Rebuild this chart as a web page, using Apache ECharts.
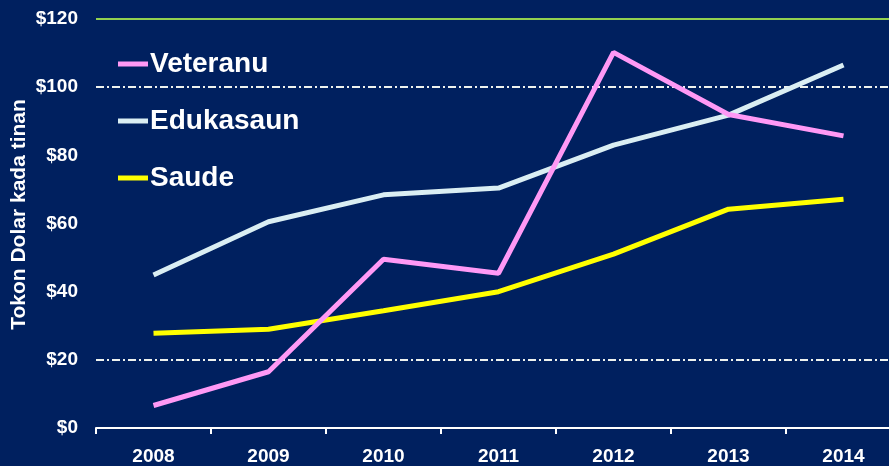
<!DOCTYPE html>
<html>
<head>
<meta charset="utf-8">
<script src="https://cdn.jsdelivr.net/npm/echarts@6/dist/echarts.min.js"></script>
<style>
html,body{margin:0;padding:0;background:#00205F;}
#chart{width:889px;height:466px;}
</style>
</head>
<body>
<div id="chart"></div>
<script>
var years = ['2008','2009','2010','2011','2012','2013','2014'];
var veteranu = [6.6, 16.5, 49.5, 45.4, 110.2, 92.0, 85.7];
var edukasaun = [44.9, 60.5, 68.4, 70.4, 83.0, 91.8, 106.5];
var saude = [27.8, 29.0, 34.4, 40.0, 51.0, 64.2, 67.1];
var yTicks = [0, 20, 40, 60, 80, 100, 120];
var dashedLevels = [100, 20];
var greenLevel = 120;

var font = '"Liberation Sans", Arial, sans-serif';
var chart = echarts.init(document.getElementById('chart'));

var markData = [{yAxis: greenLevel, lineStyle: {color: '#92D050', width: 2, type: 'solid'}}];
dashedLevels.forEach(function (v) {
  markData.push({yAxis: v, lineStyle: {color: '#EEF2EE', width: 2, type: [8, 3, 2, 3]}});
});

chart.setOption({
  backgroundColor: '#00205F',
  animation: false,
  grid: {left: 96, width: 805, top: 19, height: 409, outerBoundsMode: 'none', containLabel: false},
  legend: {
    orient: 'vertical',
    left: 113, top: 45,
    itemWidth: 30, itemHeight: 5, itemGap: 29,
    icon: 'rect',
    textStyle: {color: '#FFFFFF', fontSize: 28, fontWeight: 'bold', fontFamily: font, padding: [0,0,0,-3]},
    data: ['Veteranu', 'Edukasaun', 'Saude']
  },
  xAxis: {
    type: 'category',
    data: years,
    boundaryGap: true,
    axisLine: {lineStyle: {color: '#FFFFFF', width: 2}},
    axisTick: {show: true, length: 6, lineStyle: {color: '#FFFFFF', width: 2}},
    axisLabel: {color: '#FFFFFF', fontSize: 19, fontWeight: 'bold', fontFamily: font, margin: 19},
    splitLine: {show: false}
  },
  yAxis: {
    type: 'value',
    min: yTicks[0], max: yTicks[yTicks.length - 1], interval: 20,
    name: 'Tokon Dolar kada tinan',
    nameLocation: 'middle',
    nameGap: 66,
    nameMoveOverlap: false,
    nameTextStyle: {color: '#FFFFFF', fontSize: 21, fontWeight: 'bold', fontFamily: font, padding: [0,0,0,18]},
    axisLine: {show: false},
    axisTick: {show: false},
    splitLine: {show: false},
    axisLabel: {color: '#FFFFFF', fontSize: 19, fontWeight: 'bold', fontFamily: font, margin: 18,
      formatter: function (v) { return '$' + v; }}
  },
  series: [
    {name: 'Veteranu', type: 'line', data: veteranu, symbol: 'none', lineStyle: {color: '#FF99F5', width: 5}, itemStyle: {color: '#FF99F5'}, z: 5},
    {name: 'Edukasaun', type: 'line', data: edukasaun, symbol: 'none', lineStyle: {color: '#DAEEF3', width: 5}, itemStyle: {color: '#DAEEF3'}, z: 4,
      markLine: {silent: true, symbol: 'none', label: {show: false}, data: markData, z: 1}},
    {name: 'Saude', type: 'line', data: saude, symbol: 'none', lineStyle: {color: '#FFFF00', width: 5}, itemStyle: {color: '#FFFF00'}, z: 3}
  ]
});
</script>
</body>
</html>
